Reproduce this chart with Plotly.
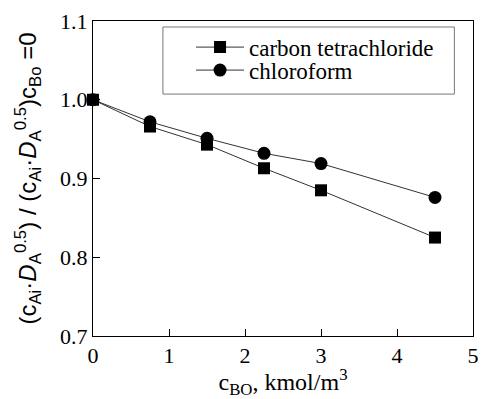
import plotly.graph_objects as go

x_ccl4 = [0, 0.75, 1.5, 2.25, 3.0, 4.5]
y_ccl4 = [1.0, 0.966, 0.943, 0.913, 0.885, 0.825]
x_chcl3 = [0, 0.75, 1.5, 2.25, 3.0, 4.5]
y_chcl3 = [1.0, 0.972, 0.951, 0.932, 0.919, 0.876]
series_names = ["carbon tetrachloride", "chloroform"]
x_ticks = [0, 1, 2, 3, 4, 5]
y_ticks = [0.7, 0.8, 0.9, 1.0, 1.1]
y_tick_text = ["0.7", "0.8", "0.9", "1.0", "1.1"]

serif = "'Liberation Serif', 'Times New Roman', Times, serif"
sans = "'Liberation Sans', Arial, Helvetica, sans-serif"

fig = go.Figure()
fig.add_trace(go.Scatter(
    x=x_ccl4, y=y_ccl4, name=series_names[0], mode="lines+markers",
    line=dict(color="#333333", width=1),
    marker=dict(symbol="square", size=12, color="black"),
    cliponaxis=False, legend="legend",
))
fig.add_trace(go.Scatter(
    x=x_chcl3, y=y_chcl3, name=series_names[1], mode="lines+markers",
    line=dict(color="#333333", width=1),
    marker=dict(symbol="circle", size=13, color="black"),
    cliponaxis=False, legend="legend2",
))

leg_common = dict(
    x=0.258, xanchor="left", yanchor="middle",
    borderwidth=0, bgcolor="rgba(0,0,0,0)",
    font=dict(family=serif, size=23, color="black"),
    itemwidth=48,
)

fig.update_layout(
    width=484, height=399,
    margin=dict(l=93, r=5, t=21, b=63),
    paper_bgcolor="white", plot_bgcolor="white",
    font=dict(family=serif, size=22, color="black"),
    showlegend=True,
    legend=dict(y=0.917, **leg_common),
    legend2=dict(y=0.844, **leg_common),
    shapes=[dict(
        type="rect", xref="paper", yref="paper",
        x0=0.184, x1=0.951, y0=0.768, y1=0.981,
        line=dict(color="#777777", width=1), fillcolor="white", layer="below",
    )],
    xaxis=dict(
        range=[0, 5], tickvals=x_ticks, ticks="inside", ticklen=7,
        tickcolor="black", showline=True, linecolor="black", linewidth=1,
        mirror=True, showgrid=False, zeroline=False,
        ticklabeloverflow="allow",
        tickfont=dict(family=serif, size=22, color="black"),
        title=dict(text="c<sub>BO</sub>, kmol/m<sup>3</sup>",
                   font=dict(family=serif, size=24, color="black"), standoff=4),
    ),
    yaxis=dict(
        range=[0.7, 1.1], tickvals=y_ticks, ticktext=y_tick_text,
        ticks="inside", ticklen=7,
        tickcolor="black", showline=True, linecolor="black", linewidth=1,
        mirror=True, showgrid=False, zeroline=False,
        ticklabeloverflow="allow",
        tickfont=dict(family=serif, size=22, color="black"),
        title=dict(text="(c<sub>Ai</sub>·<i>D</i><sub>A</sub><sup>0.5</sup>) / (c<sub>Ai</sub>·<i>D</i><sub>A</sub><sup>0.5</sup>)c<sub>Bo</sub> =0",
                   font=dict(family=sans, size=24, color="black"), standoff=16),
    ),
)

fig.write_html("out.html")
